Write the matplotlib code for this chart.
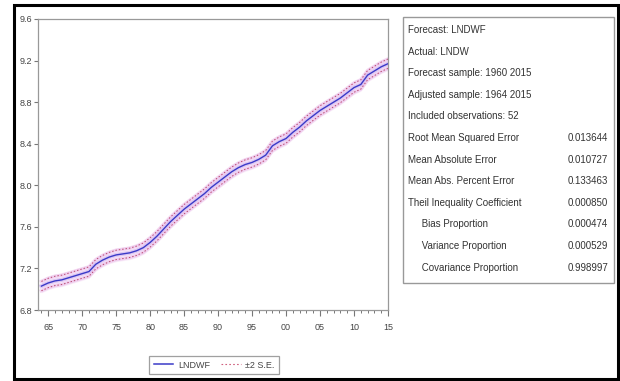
import matplotlib
matplotlib.use("Agg")
import matplotlib.pyplot as plt
from matplotlib.patches import Rectangle
from matplotlib.lines import Line2D
import numpy as np

years = list(range(1964, 2016))
lndwf = [7.03, 7.06, 7.08, 7.09, 7.11, 7.13, 7.15, 7.17, 7.24, 7.28,
         7.31, 7.33, 7.34, 7.35, 7.37, 7.40, 7.45, 7.51, 7.58, 7.65,
         7.71, 7.77, 7.82, 7.87, 7.92, 7.98, 8.03, 8.08, 8.13, 8.17,
         8.20, 8.22, 8.25, 8.29, 8.38, 8.42, 8.45, 8.51, 8.56, 8.62,
         8.67, 8.72, 8.76, 8.80, 8.84, 8.89, 8.94, 8.97, 9.06, 9.10,
         9.14, 9.17]
two_se = [0.045] * len(years)

xticks = [1965, 1970, 1975, 1980, 1985, 1990, 1995, 2000, 2005, 2010, 2015]
xticklabels = ["65", "70", "75", "80", "85", "90", "95", "00", "05", "10", "15"]
yticks = [6.8, 7.2, 7.6, 8.0, 8.4, 8.8, 9.2, 9.6]

stat_labels = ["Forecast: LNDWF", "Actual: LNDW", "Forecast sample: 1960 2015",
               "Adjusted sample: 1964 2015", "Included observations: 52",
               "Root Mean Squared Error", "Mean Absolute Error",
               "Mean Abs. Percent Error", "Theil Inequality Coefficient",
               "     Bias Proportion", "     Variance Proportion",
               "     Covariance Proportion"]
stat_values = ["", "", "", "", "", "0.013644", "0.010727", "0.133463",
               "0.000850", "0.000474", "0.000529", "0.998997"]

FONT = ["Liberation Sans Narrow", "Liberation Sans", "DejaVu Sans"]
W, H = 620, 381
fig = plt.figure(figsize=(W / 100, H / 100), dpi=100)
fig.patch.set_facecolor("white")

def fx(px):
    return px / W

def fy(py):
    return 1 - py / H

# outer frame
fig.add_artist(Rectangle((fx(14), fy(379)), fx(604), 374 / H, transform=fig.transFigure,
                         fill=False, edgecolor="black", linewidth=2.2))

ax = fig.add_axes([fx(38), fy(310), fx(350), 291 / H])
yr = np.array(years)
f = np.array(lndwf)
se = np.array(two_se)
upper = f + se
lower = f - se

ax.fill_between(yr, lower - 0.02, upper + 0.02, color="#f6e0f6", alpha=0.6, lw=0)
ax.plot(yr, upper, color="#eab8e8", lw=2.5, alpha=0.55)
ax.plot(yr, lower, color="#eab8e8", lw=2.5, alpha=0.55)
ax.plot(yr, f, color="#cdb0f0", lw=3.0, alpha=0.6)
ax.plot(yr, upper, color="#b84a70", lw=0.7, ls=(0, (1.5, 2)))
ax.plot(yr, lower, color="#b84a70", lw=0.7, ls=(0, (1.5, 2)))
ax.plot(yr, f, color="#3a3ac8", lw=1.0)

ax.set_xlim(1963.5, 2015)
ax.set_ylim(6.8, 9.6)
ax.set_xticks(xticks)
ax.set_xticklabels(xticklabels)
ax.set_xticks(years, minor=True)
ax.set_yticks(yticks)
ax.set_yticklabels([f"{v:.1f}" for v in yticks])
for lab in ax.get_xticklabels() + ax.get_yticklabels():
    lab.set_fontfamily(FONT)
    lab.set_fontsize(6.5)
    lab.set_color("#444444")
ax.tick_params(axis="x", which="major", length=4, width=0.8, color="#777777", pad=5)
ax.tick_params(axis="x", which="minor", length=2.5, width=0.7, color="#777777")
ax.tick_params(axis="y", which="major", length=3, width=0.8, color="#777777", pad=1)
for s in ax.spines.values():
    s.set_color("#999999")
    s.set_linewidth(0.9)

# legend
handles = [Line2D([], [], color="#3a3ac8", lw=1.1),
           Line2D([], [], color="#d0607f", lw=0.8, ls=(0, (1.5, 2)))]
leg = fig.legend(handles, ["LNDWF", "±2 S.E."], loc="center",
                 bbox_to_anchor=(fx(214), fy(365)), ncol=2, frameon=True,
                 fancybox=False, handlelength=2.2, columnspacing=1.2,
                 handletextpad=0.5, borderpad=0.45,
                 prop={"family": FONT, "size": 6.5})
leg.get_frame().set_edgecolor("#888888")
leg.get_frame().set_linewidth(0.9)
for t in leg.get_texts():
    t.set_color("#444444")

# statistics box
fig.add_artist(Rectangle((fx(403), fy(283)), fx(211), 266 / H, transform=fig.transFigure,
                         fill=False, edgecolor="#999999", linewidth=1.0))
y0, dy = 30, 21.6
for i, (lab, val) in enumerate(zip(stat_labels, stat_values)):
    yy = fy(y0 + i * dy)
    fig.text(fx(408), yy, lab, fontsize=7, family=FONT, color="#333333", va="center")
    if val:
        fig.text(fx(568), yy, val, fontsize=7, family=FONT, color="#333333", va="center")

fig.savefig("out.png", dpi=100)
